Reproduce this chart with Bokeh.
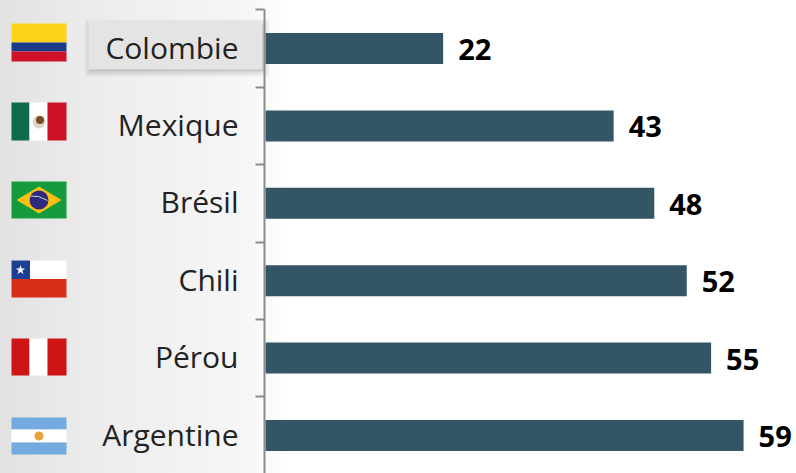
from bokeh.embed import file_html
from bokeh.resources import INLINE
from bokeh.plotting import figure
from bokeh.models import Range1d, LinearAxis, FixedTicker
from bokeh.core.properties import value

countries = ["Colombie", "Mexique", "Brésil", "Chili", "Pérou", "Argentine"]
values = [22, 43, 48, 52, 55, 59]
ranks = list(range(len(countries)))
boundaries = [-0.5, 0.5, 1.5, 2.5, 3.5, 4.5, 5.5]

W, H = 796, 473
X0, PX_UNIT = 264, 8.12
Y0, PX_RANK = 48, 77.4
LABEL_Y0 = 46.5

p = figure(width=W, height=H, output_backend="svg", toolbar_location=None,
           x_range=Range1d(-X0 / PX_UNIT, (W - X0) / PX_UNIT),
           y_range=Range1d((H - Y0) / PX_RANK, -Y0 / PX_RANK),
           min_border=0, min_border_left=0, min_border_right=0, min_border_top=0, min_border_bottom=0,
           x_axis_location=None, y_axis_location=None)
p.extra_x_ranges["px"] = Range1d(0, W)
p.extra_y_ranges["px"] = Range1d(H, 0)
p.extra_y_ranges["lab"] = Range1d((H - LABEL_Y0) / PX_RANK, -LABEL_Y0 / PX_RANK)
p.grid.visible = False
p.outline_line_color = None
p.background_fill_alpha = 0
p.border_fill_alpha = 0
p.styles = {"background": "linear-gradient(90deg, #e2e2e2 0px, #ececec 90px, #f6f6f6 245px, #ffffff 290px)"}


def rects(x0, x1, y0, y1, color, alpha=1.0):
    p.quad(left=[x0], right=[x1], bottom=[y1], top=[y0], fill_color=color, fill_alpha=alpha,
           line_color=None, x_range_name="px", y_range_name="px")


# highlight box behind "Colombie"
for grow, a in ((7, 0.05), (5, 0.07), (3, 0.10), (1, 0.16)):
    rects(91 - grow, 262 + grow, 26 - grow, 69 + grow, "#555555", a)
rects(88, 262, 20, 69, "#e4e4e4")

# flags
rects(11, 66, 23, 42, "#fdd319")
rects(11, 66, 42, 51, "#1a3a8a")
rects(11, 66, 51, 61, "#ce1126")

rects(11, 29, 102, 140, "#0f6b4a")
rects(29, 47, 102, 140, "#ffffff")
rects(47, 66, 102, 140, "#ce1126")
p.scatter([38.5], [121.5], size=13, marker="circle", fill_color="#ddd8c8", line_color=None,
          x_range_name="px", y_range_name="px")
p.scatter([39.5], [119.5], size=8, marker="circle", fill_color="#7a4a28", line_color=None,
          x_range_name="px", y_range_name="px")

rects(11, 66, 181, 218, "#159a3e")
p.patch([16, 38.5, 61, 38.5], [199.5, 186, 199.5, 213], fill_color="#fcc00f", line_color=None,
        x_range_name="px", y_range_name="px")
p.scatter([38.5], [199.5], size=19, marker="circle", fill_color="#2d2a7f", line_color=None,
          x_range_name="px", y_range_name="px")
p.line([30, 38, 47], [195.5, 196, 200], line_color="#c8d8c8", line_width=1,
       x_range_name="px", y_range_name="px")

rects(11, 66, 260, 278.5, "#ffffff")
rects(11, 66, 278.5, 297, "#d62f15")
rects(11, 29.5, 260, 278.5, "#1c3f96")
p.scatter([20], [269.5], size=10, marker="star", fill_color="#ffffff", line_color=None,
          x_range_name="px", y_range_name="px")

rects(11, 29, 338, 375, "#cf1416")
rects(29, 47, 338, 375, "#ffffff")
rects(47, 66, 338, 375, "#cf1416")

rects(11, 66, 417, 429, "#74aadf")
rects(11, 66, 429, 442, "#ffffff")
rects(11, 66, 442, 454, "#74aadf")
p.scatter([38.5], [435.5], size=9, marker="circle", fill_color="#e8a23c", line_color=None,
          x_range_name="px", y_range_name="px")

# bars
p.hbar(y=ranks, right=values, left=0.12, height=0.4, fill_color="#345565", line_color=None)

# value labels
p.text(x=values, y=ranks, text=[str(v) for v in values], x_offset=15, y_offset=1,
       text_font=value("Open Sans"), text_font_style="bold", text_font_size="29px",
       text_color="#000000", text_align="left", text_baseline="middle")

# axis line and ticks between categories
ax = LinearAxis(ticker=FixedTicker(ticks=boundaries), fixed_location=0, bounds=(-0.5, 5.6))
ax.axis_line_color = "#8c8c8c"
ax.axis_line_width = 2
ax.major_tick_line_color = "#8c8c8c"
ax.major_tick_line_width = 2
ax.major_tick_in = 0
ax.major_tick_out = 9
ax.minor_tick_line_color = None
ax.major_label_text_font_size = "0px"
ax.major_label_text_alpha = 0
p.add_layout(ax, "left")

# category labels
lab = LinearAxis(ticker=FixedTicker(ticks=ranks), fixed_location=0, y_range_name="lab",
                 major_label_overrides={r: c for r, c in zip(ranks, countries)})
lab.axis_line_color = None
lab.major_tick_line_color = None
lab.minor_tick_line_color = None
lab.major_tick_in = 0
lab.major_tick_out = 0
lab.major_label_standoff = 26
lab.major_label_text_font = "Open Sans"
lab.major_label_text_font_size = "30px"
lab.major_label_text_color = "#222222"
p.add_layout(lab, "left")

open("out.html", "w").write(file_html(p, INLINE))
